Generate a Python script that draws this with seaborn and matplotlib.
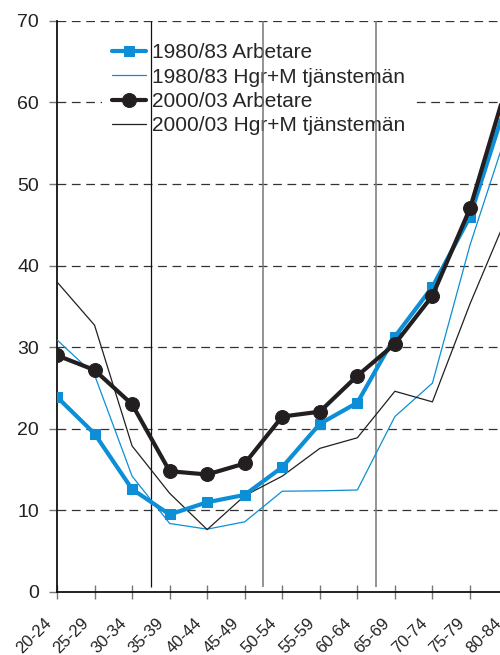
import numpy as np
import pandas as pd
import matplotlib
matplotlib.use("Agg")
import matplotlib.pyplot as plt
import seaborn as sns

# ============================
# DATA
# ============================
age_groups = ["20-24", "25-29", "30-34", "35-39", "40-44", "45-49", "50-54",
              "55-59", "60-64", "65-69", "70-74", "75-79", "80-84"]

arb_1980 = [23.9, 19.4, 12.6, 9.5, 11.0, 11.9, 15.3, 20.6, 23.2, 31.3, 37.4, 46.0, 60.4]
tj_1980 = [30.9, 26.6, 14.2, 8.4, 7.7, 8.6, 12.35, 12.4, 12.5, 21.5, 25.6, 42.5, 56.6]
arb_2000 = [29.0, 27.2, 23.0, 14.8, 14.4, 15.75, 21.5, 22.1, 26.5, 30.4, 36.3, 47.0, 62.4]
tj_2000 = [38.0, 32.7, 17.9, 12.1, 7.65, 11.8, 14.2, 17.6, 18.9, 24.6, 23.3, 35.3, 46.2]

labels = ["1980/83 Arbetare", "1980/83 Hgr+M tjänstemän",
          "2000/03 Arbetare", "2000/03 Hgr+M tjänstemän"]

BLUE = "#0c8fd6"
BLACK = "#231f20"

# ============================
# FIGURE
# ============================
sns.set_style("white")
plt.rcParams["font.family"] = ["Liberation Sans", "DejaVu Sans"]

fig = plt.figure(figsize=(5.0, 6.55), dpi=100)
ax = fig.add_axes([0.114, 0.0962, 0.886, 0.872])

x = np.arange(len(age_groups))

# grid + separators
for v in range(10, 71, 10):
    ax.axhline(v, color="#333333", lw=0.9, dashes=(7, 4.5), zorder=1)
ax.vlines([2.5], 0.6, 70, color="#111111", lw=0.9, zorder=6)
ax.vlines([5.5, 8.5], 0.6, 70, color="#777777", lw=1.1, zorder=6)

sns.lineplot(x=x, y=arb_1980, ax=ax, color=BLUE, lw=3.0, marker="s",
             markersize=7, markeredgecolor=BLUE, label=labels[0], zorder=8)
sns.lineplot(x=x, y=tj_1980, ax=ax, color=BLUE, lw=0.9, label=labels[1], zorder=7)
sns.lineplot(x=x, y=arb_2000, ax=ax, color=BLACK, lw=3.0, marker="o",
             markersize=10, markeredgecolor=BLACK, label=labels[2], zorder=9)
sns.lineplot(x=x, y=tj_2000, ax=ax, color=BLACK, lw=0.9, label=labels[3], zorder=7)

ax.set_xlim(0, 11.80)
ax.set_ylim(0, 70)
ax.set_yticks(range(0, 71, 10))
ax.tick_params(axis="y", labelsize=14, length=6, width=1, color="#777777",
               pad=7, left=True, labelcolor="#222222")
ax.set_xticks(x[:12])
ax.set_xticklabels([])
ax.tick_params(axis="x", length=10, direction="inout", width=1,
               color="#777777", bottom=True)

# rotated category labels (last one sits past the cut-off right edge)
for i, lab in enumerate(age_groups):
    ax.annotate(lab, xy=(i, 0), xycoords=("data", "axes fraction"),
                xytext=(-9.5, -17), textcoords="offset points",
                rotation=45, ha="right", va="top", rotation_mode="anchor",
                fontsize=12, color="#222222", annotation_clip=False)

for side in ["top", "right"]:
    ax.spines[side].set_visible(False)
ax.spines["left"].set_color("#111111")
ax.spines["bottom"].set_color("#111111")
ax.spines["left"].set_linewidth(1.3)
ax.spines["bottom"].set_linewidth(1.3)
ax.set_xlabel("")
ax.set_ylabel("")

leg = ax.legend(loc="upper left", bbox_to_anchor=(0.077, 0.997), fontsize=15,
                frameon=True, fancybox=False, edgecolor="none",
                facecolor="white", framealpha=1, handlelength=1.65,
                handletextpad=0.25, labelspacing=0.25, borderpad=0.5)
leg.set_zorder(4)

fig.savefig("out.png", dpi=100)
